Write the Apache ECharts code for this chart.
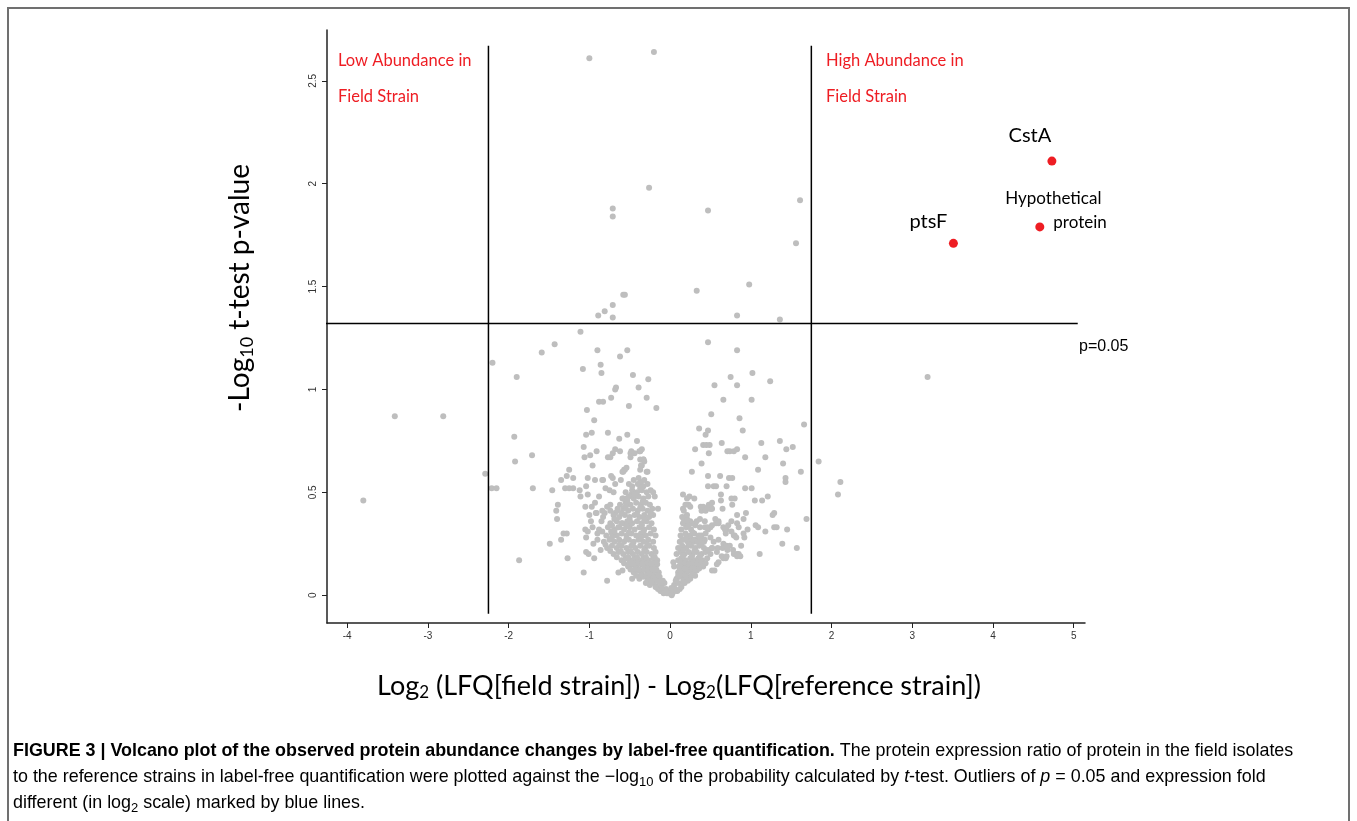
<!DOCTYPE html>
<html><head><meta charset="utf-8">
<script src="https://cdn.jsdelivr.net/npm/echarts@6/dist/echarts.min.js"></script>
<style>html,body{margin:0;padding:0;background:#fff}#c{width:1357px;height:821px}</style>
</head><body><div id="c"></div>
<script>
const xTicks = [-4,-3,-2,-1,0,1,2,3,4,5];
const yTicks = [0,0.5,1,1.5,2,2.5];

const topPoints = [[-1.00,2.61],[-0.20,2.64],[-0.26,1.98],[-0.71,1.88],[-0.71,1.84],[0.47,1.87],[1.61,1.92],[1.56,1.71],[0.33,1.48],[0.98,1.51],[-0.58,1.46],[-0.56,1.46],[-0.71,1.41],[-0.89,1.36],[-0.81,1.38],[-0.71,1.35],[0.83,1.36],[1.36,1.34]];

const leftSide = [[-1.11,1.28],[-1.43,1.22],[-1.59,1.18],[-2.20,1.13],[-0.90,1.19],[-0.62,1.16],[-0.53,1.19],[-1.90,1.06],[-1.08,1.10],[-0.86,1.12],[-0.85,1.08],[-0.46,1.07],[-0.27,1.05],[-0.39,1.01],[-0.67,1.01],[-0.68,1.00],[-0.73,0.96],[-0.29,0.96],[-0.88,0.94],[-0.83,0.94],[-0.51,0.92],[-0.17,0.91],[-1.03,0.90],[-0.94,0.85],[-3.41,0.87],[-2.81,0.87],[-3.80,0.46],[-0.97,0.79],[-1.04,0.78],[-0.77,0.79],[-0.53,0.78],[-1.93,0.77],[-0.41,0.75],[-0.63,0.76],[-1.07,0.72],[-0.91,0.70],[-0.68,0.71],[-0.71,0.69],[-0.49,0.69],[-0.49,0.67],[-0.37,0.70],[-0.37,0.66],[-1.71,0.68],[-1.06,0.67],[-0.99,0.68],[-0.62,0.70],[-0.77,0.67],[-0.74,0.67],[-0.33,0.66],[-0.35,0.63],[-1.92,0.65],[-0.96,0.63],[-1.25,0.61],[-1.28,0.58],[-0.59,0.60],[-0.57,0.61],[-0.28,0.60],[-2.29,0.59],[-2.21,0.52],[-2.15,0.52],[-1.20,0.57],[-1.35,0.56],[-1.02,0.57],[-0.93,0.56],[-0.83,0.56],[-0.71,0.57],[-0.68,0.54],[-0.61,0.56],[-0.51,0.54],[-0.36,0.55],[-0.37,0.54],[-1.70,0.52],[-1.30,0.52],[-1.25,0.52],[-1.20,0.52],[-1.46,0.51],[-1.12,0.51],[-1.11,0.48],[-1.02,0.49],[-1.04,0.53],[-0.80,0.52],[-0.75,0.51],[-0.70,0.50],[-0.21,0.50],[-0.19,0.48],[-0.59,0.47],[-0.54,0.47],[-0.48,0.49],[-1.39,0.44],[-1.41,0.41],[-1.40,0.37],[-1.05,0.43],[-0.97,0.43],[-0.92,0.40],[-0.81,0.40],[-0.74,0.41],[-0.68,0.40],[-0.15,0.42],[-1.05,0.32],[-1.32,0.30],[-1.28,0.30],[-1.35,0.27],[-1.02,0.31],[-1.04,0.28],[-1.49,0.25],[-1.04,0.21],[-1.01,0.20],[-0.94,0.18],[-1.27,0.18],[-1.87,0.17],[-1.07,0.11],[-0.78,0.07],[-0.47,0.08],[-0.64,0.11],[-0.59,0.12],[-0.84,0.56],[-0.73,0.58],[-0.56,0.61],[-0.54,0.62],[-0.91,0.40],[-0.84,0.41],[-0.78,0.43],[-0.74,0.44],[-0.65,0.42],[-0.84,0.31],[-0.73,0.31],[-0.69,0.32],[-0.64,0.33],[-0.59,0.35],[-0.52,0.35],[-0.35,0.71],[-0.38,0.70],[-0.33,0.66],[-0.32,0.65],[-0.48,0.70],[-0.44,0.69],[-0.58,0.60],[-0.36,0.63],[-0.37,0.61],[-0.29,0.60],[-0.29,0.09],[-0.23,0.07],[-0.17,0.04],[-0.10,0.02],[-0.04,0.01],[0.02,0.00],
 [-0.95,0.25],[-0.90,0.30],[-0.98,0.36],[-0.86,0.22],[-0.93,0.45],[-0.88,0.48],[-1.00,0.39],[-0.85,0.36],[-0.90,0.27],[-0.96,0.33]];

const rightSide = [[0.47,1.23],[0.83,1.19],[1.02,1.08],[1.24,1.04],[0.75,1.06],[0.83,1.02],[0.55,1.02],[0.66,0.95],[1.01,0.95],[0.51,0.88],[0.86,0.86],[0.90,0.80],[1.66,0.83],[3.19,1.06],[0.36,0.81],[0.47,0.80],[0.44,0.78],[0.31,0.71],[0.41,0.73],[0.45,0.73],[0.49,0.73],[0.48,0.69],[0.64,0.74],[0.71,0.70],[0.74,0.70],[0.79,0.70],[0.83,0.71],[0.93,0.67],[1.13,0.74],[1.18,0.67],[1.36,0.75],[1.44,0.71],[1.52,0.72],[1.40,0.64],[1.62,0.60],[1.84,0.65],[2.11,0.55],[2.08,0.49],[0.39,0.64],[0.27,0.60],[1.09,0.61],[1.43,0.57],[1.43,0.55],[0.47,0.58],[0.62,0.58],[0.73,0.57],[0.77,0.57],[0.47,0.53],[0.54,0.53],[0.57,0.53],[0.70,0.53],[0.93,0.52],[1.01,0.52],[0.16,0.49],[0.30,0.47],[0.63,0.49],[0.63,0.46],[1.05,0.46],[1.14,0.46],[1.21,0.48],[0.77,0.44],[0.16,0.42],[0.23,0.44],[0.25,0.43],[0.39,0.41],[0.44,0.42],[0.50,0.43],[0.52,0.42],[0.65,0.42],[0.83,0.39],[0.94,0.40],[0.91,0.37],[1.29,0.40],[1.27,0.39],[0.17,0.37],[0.21,0.37],[0.23,0.35],[0.25,0.36],[0.76,0.36],[0.60,0.36],[0.57,0.35],[0.43,0.33],[0.47,0.32],[0.50,0.33],[0.66,0.33],[0.70,0.32],[0.72,0.34],[0.85,0.33],[1.09,0.33],[1.18,0.31],[1.29,0.33],[1.32,0.33],[1.45,0.32],[1.69,0.37],[0.79,0.29],[0.82,0.28],[0.92,0.28],[0.15,0.27],[0.21,0.29],[0.30,0.26],[0.36,0.27],[0.42,0.26],[0.52,0.23],[0.59,0.23],[0.65,0.23],[0.71,0.22],[0.88,0.24],[0.79,0.20],[0.83,0.19],[0.85,0.20],[1.11,0.20],[1.39,0.25],[1.57,0.23],[0.66,0.18],[0.69,0.18],[0.60,0.16],[0.58,0.15],[0.52,0.12],[0.55,0.12],[0.04,0.16],[0.05,0.14],[0.21,0.47],[0.24,0.48],[0.76,0.47],[0.80,0.47],[0.19,0.38],[0.20,0.34],[0.26,0.35],[0.31,0.34],[0.33,0.36],[0.37,0.37],[0.43,0.36],[0.46,0.33],[0.52,0.34],[0.56,0.37],[0.60,0.35],[0.68,0.32],[0.69,0.30],[0.76,0.31],[0.80,0.29],[0.83,0.35],[0.91,0.30],[0.96,0.32],[1.06,0.34],[0.24,0.28],[0.27,0.26],[0.31,0.27],[0.35,0.28],[0.39,0.29],[0.43,0.27],[0.50,0.28],[0.54,0.26],[0.60,0.27],[0.66,0.25],[0.70,0.24],[0.74,0.24],[0.78,0.22],[0.83,0.20],[0.87,0.19],[0.52,0.23],[0.58,0.21],[0.64,0.19],[0.70,0.19],[0.38,0.43],[0.41,0.43],[0.44,0.41],[0.49,0.42],[0.51,0.42],[0.48,0.44],[0.52,0.45]];

const core = [[-0.12,0.02],[-0.08,0.01],[-0.05,0.03],[-0.02,0.01],[0.00,0.02],[0.03,0.01],[0.06,0.03],[0.09,0.02],[0.12,0.03],[-0.15,0.03],
 [-0.25,0.05],[-0.20,0.06],[-0.16,0.04],[-0.11,0.05],[-0.07,0.06],[0.05,0.05],[0.10,0.06],[0.14,0.04],[0.18,0.06],[-0.30,0.06],
 [-0.38,0.08],[-0.33,0.09],[-0.27,0.08],[-0.22,0.09],[-0.17,0.08],[-0.13,0.09],[0.08,0.08],[0.12,0.09],[0.17,0.08],[0.21,0.09],[0.25,0.08],
 [-0.45,0.11],[-0.40,0.12],[-0.35,0.11],[-0.29,0.12],[-0.24,0.11],[-0.19,0.12],[-0.14,0.11],[0.10,0.11],[0.15,0.12],[0.20,0.11],[0.24,0.12],[0.29,0.11],[0.33,0.12],
 [-0.52,0.14],[-0.47,0.15],[-0.42,0.14],[-0.36,0.15],[-0.31,0.14],[-0.26,0.15],[-0.20,0.14],[-0.16,0.15],[0.11,0.14],[0.16,0.15],[0.22,0.14],[0.27,0.15],[0.31,0.14],[0.37,0.15],[0.41,0.14],
 [-0.60,0.17],[-0.55,0.18],[-0.49,0.17],[-0.44,0.18],[-0.38,0.17],[-0.33,0.18],[-0.27,0.17],[-0.21,0.18],[-0.16,0.17],[0.10,0.17],[0.14,0.18],[0.19,0.17],[0.25,0.18],[0.30,0.17],[0.35,0.18],[0.40,0.17],[0.46,0.18],
 [-0.70,0.20],[-0.64,0.21],[-0.58,0.20],[-0.52,0.21],[-0.46,0.20],[-0.40,0.21],[-0.35,0.20],[-0.29,0.21],[-0.23,0.20],[-0.18,0.21],[0.08,0.20],[0.13,0.21],[0.18,0.20],[0.23,0.21],[0.28,0.20],[0.33,0.21],[0.39,0.20],[0.44,0.21],[0.50,0.20],
 [-0.78,0.23],[-0.72,0.24],[-0.66,0.23],[-0.60,0.24],[-0.54,0.23],[-0.48,0.24],[-0.43,0.23],[-0.37,0.24],[-0.31,0.23],[-0.26,0.24],[-0.20,0.23],[0.10,0.23],[0.15,0.24],[0.20,0.23],[0.26,0.24],[0.31,0.23],[0.36,0.24],[0.42,0.23],
 [-0.82,0.26],[-0.75,0.27],[-0.69,0.26],[-0.63,0.27],[-0.57,0.26],[-0.51,0.27],[-0.45,0.26],[-0.39,0.27],[-0.33,0.26],[-0.27,0.27],[-0.21,0.26],[0.12,0.26],[0.17,0.27],[0.22,0.26],[0.28,0.27],[0.34,0.26],[0.39,0.27],
 [-0.79,0.29],[-0.72,0.30],[-0.66,0.29],[-0.60,0.30],[-0.54,0.29],[-0.48,0.30],[-0.42,0.29],[-0.36,0.30],[-0.30,0.29],[-0.24,0.30],[-0.18,0.29],[0.13,0.29],[0.19,0.30],[0.25,0.29],[0.30,0.30],[0.36,0.29],[0.44,0.30],
 [-0.88,0.32],[-0.77,0.33],[-0.69,0.32],[-0.63,0.33],[-0.57,0.32],[-0.50,0.33],[-0.44,0.32],[-0.38,0.33],[-0.32,0.32],[-0.26,0.33],[-0.20,0.32],[0.14,0.32],[0.20,0.33],[0.26,0.32],[0.37,0.33],
 [-0.74,0.35],[-0.66,0.36],[-0.60,0.35],[-0.53,0.36],[-0.47,0.35],[-0.41,0.36],[-0.35,0.35],[-0.29,0.36],[-0.23,0.35],[0.16,0.35],[0.22,0.36],[0.27,0.35],
 [-0.83,0.38],[-0.70,0.39],[-0.63,0.38],[-0.56,0.39],[-0.50,0.38],[-0.44,0.39],[-0.38,0.38],[-0.32,0.39],[-0.26,0.38],[-0.21,0.39],[0.15,0.38],[0.21,0.39],
 [-0.65,0.41],[-0.58,0.42],[-0.52,0.41],[-0.46,0.42],[-0.40,0.41],[-0.34,0.42],[-0.28,0.41],[-0.22,0.42],[0.17,0.41],
 [-0.62,0.44],[-0.55,0.45],[-0.49,0.44],[-0.42,0.45],[-0.36,0.44],[-0.30,0.45],[-0.25,0.44],[0.19,0.44],
 [-0.58,0.47],[-0.51,0.48],[-0.45,0.47],[-0.39,0.48],[-0.33,0.47],[-0.27,0.48],
 [-0.55,0.50],[-0.47,0.51],[-0.41,0.50],[-0.35,0.51],[-0.29,0.50],[-0.24,0.51],
 [-0.47,0.53],[-0.40,0.54],[-0.33,0.53],[-0.28,0.54],
 [-0.45,0.56],[-0.39,0.57],[-0.32,0.56]];

const coreFill = [[-0.10,0.035],[-0.035,0.02],[0.015,0.035],[0.075,0.02],[-0.18,0.04],
 [-0.28,0.07],[-0.23,0.065],[-0.14,0.065],[-0.09,0.07],[0.07,0.07],[0.16,0.065],[0.22,0.07],
 [-0.42,0.095],[-0.36,0.1],[-0.30,0.095],[-0.25,0.1],[-0.20,0.095],[-0.15,0.10],[0.10,0.095],[0.15,0.10],[0.19,0.095],[0.27,0.10],[0.31,0.095],
 [-0.49,0.125],[-0.43,0.13],[-0.38,0.125],[-0.32,0.13],[-0.27,0.125],[-0.22,0.13],[-0.17,0.125],[0.12,0.125],[0.18,0.13],[0.22,0.125],[0.27,0.13],[0.31,0.125],[0.36,0.13],
 [-0.57,0.155],[-0.50,0.16],[-0.45,0.155],[-0.39,0.16],[-0.34,0.155],[-0.28,0.16],[-0.23,0.155],[-0.18,0.16],[0.13,0.155],[0.19,0.16],[0.24,0.155],[0.29,0.16],[0.34,0.155],[0.39,0.16],[0.44,0.155],
 [-0.66,0.185],[-0.52,0.185],[-0.41,0.185],[-0.30,0.185],[-0.19,0.185],[0.16,0.19],[0.27,0.19],[0.37,0.19],
 [-0.74,0.215],[-0.61,0.215],[-0.49,0.215],[-0.32,0.22],[0.16,0.22],[0.30,0.215],[0.47,0.22],
 [-0.80,0.245],[-0.63,0.245],[-0.46,0.25],[-0.28,0.245],[0.23,0.245],[0.39,0.25],
 [-0.72,0.28],[-0.54,0.275],[-0.36,0.28],[0.20,0.28],[0.37,0.275],
 [-0.69,0.31],[-0.51,0.305],[-0.33,0.31],[0.28,0.305],
 [-0.72,0.34],[-0.54,0.335],[-0.35,0.34],[0.23,0.34],
 [-0.69,0.37],[-0.50,0.365],[-0.32,0.37],
 [-0.60,0.40],[-0.41,0.395],[-0.24,0.40],
 [-0.55,0.43],[-0.37,0.425],
 [-0.53,0.46],[-0.34,0.455],
 [-0.44,0.49],
 [-0.37,0.52]];

const highlightNames = ['CstA','Hypothetical protein','ptsF'];
const highlightX = [4.73, 4.58, 3.51];
const highlightY = [2.11, 1.79, 1.71];

const fcThresholds = [-2.25, 1.75];
const vLineSpan = [-0.09, 2.67];
const pThreshold = 1.32;
const hLineSpan = [-4.48, 5.05];

const grayPoints = [].concat(topPoints, leftSide, rightSide, core, coreFill);

const labelStyles = {
  'CstA': {formatter:'CstA', position:'top', offset:[-22,-6], fontSize:20, color:'#000', fontFamily:'Lato'},
  'ptsF': {formatter:'ptsF', position:'top', offset:[-25,-2], fontSize:20, color:'#000', fontFamily:'Lato'},
  'Hypothetical protein': {formatter:'{a|Hypothetical}\n{b|protein}', position:'right', offset:[-44,-16], align:'left',
     rich:{a:{fontSize:17, color:'#000', fontFamily:'Lato', lineHeight:24}, b:{fontSize:17, color:'#000', fontFamily:'Lato', lineHeight:24, padding:[0,0,0,48]}}}
};

const highlighted = highlightNames.map((n,i)=>({name:n, value:[highlightX[i], highlightY[i]], label:Object.assign({show:true, opacity:1, textBorderWidth:0}, labelStyles[n])}));

const chart = echarts.init(document.getElementById('c'), null, {renderer:'canvas'});
const axisCol = '#222';
const subRich = (size, color, fam, lh, subSize) => ({
  m:{fontSize:size, color:color, fontFamily:fam, lineHeight:lh, verticalAlign:'middle'},
  s:{fontSize:subSize, color:color, fontFamily:fam, lineHeight:subSize, verticalAlign:'bottom'}
});
const capFs = 17.9;
const capRich = {
  b:{fontSize:capFs, fontWeight:'bold', color:'#231f20', fontFamily:'Liberation Sans', lineHeight:24},
  r:{fontSize:capFs, color:'#333', fontFamily:'Liberation Sans', lineHeight:24},
  i:{fontSize:capFs, color:'#333', fontStyle:'italic', fontFamily:'Liberation Sans', lineHeight:24},
  s:{fontSize:13, color:'#333', fontFamily:'Liberation Sans', lineHeight:13, verticalAlign:'bottom'}
};

chart.setOption({
  animation:false,
  backgroundColor:'#fff',
  grid:{left:327, top:30, right:272, bottom:198, containLabel:false},
  xAxis:{type:'value', min:-4.25, max:5.14,
    axisLine:{show:true, onZero:false, lineStyle:{color:axisCol, width:1.5}},
    axisTick:{show:true, length:5, customValues:xTicks, lineStyle:{color:axisCol, width:1}},
    axisLabel:{customValues:xTicks, fontSize:10, color:'#333', margin:8, fontFamily:'Liberation Sans'},
    splitLine:{show:false}},
  yAxis:{type:'value', min:-0.135, max:2.747,
    axisLine:{show:true, onZero:false, lineStyle:{color:axisCol, width:1.5}},
    axisTick:{show:true, length:5, customValues:yTicks, lineStyle:{color:axisCol, width:1}},
    axisLabel:{customValues:yTicks, fontSize:10, color:'#333', margin:9, rotate:90, fontFamily:'Liberation Sans'},
    splitLine:{show:false}},
  series:[
    {type:'scatter', data:grayPoints, symbolSize:6, itemStyle:{color:'#bebebe', opacity:1}, silent:true, z:2},
    {type:'line', data:[[fcThresholds[0],vLineSpan[0]],[fcThresholds[0],vLineSpan[1]]], symbol:'none', lineStyle:{color:'#000', width:1.5}, z:3, clip:false},
    {type:'line', data:[[fcThresholds[1],vLineSpan[0]],[fcThresholds[1],vLineSpan[1]]], symbol:'none', lineStyle:{color:'#000', width:1.5}, z:3, clip:false},
    {type:'line', data:[[hLineSpan[0],pThreshold],[hLineSpan[1],pThreshold]], symbol:'none', lineStyle:{color:'#000', width:1.5}, z:3, clip:false},
    {type:'scatter', data:highlighted, symbolSize:9, itemStyle:{color:'#ee1d23', opacity:1}, z:4}
  ],
  graphic:[
    {type:'rect', shape:{x:8, y:8, width:1341, height:840}, style:{fill:'none', stroke:'#707070', lineWidth:2}, z:0},
    {type:'text', x:240, y:288, rotation:Math.PI/2, style:{text:'{m|-Log}{s|10}{m| t-test p-value}', rich:subRich(28,'#000','Lato',32,18), align:'center', verticalAlign:'middle'}},
    {type:'text', x:679, y:686, style:{text:'{m|Log}{s|2}{m| (LFQ[field strain]) - Log}{s|2}{m|(LFQ[reference strain])}', rich:subRich(27,'#000','Lato',30,17), align:'center', verticalAlign:'middle'}},
    {type:'text', x:338, y:61, style:{text:'Low Abundance in', fill:'#ee1d23', font:'16.5px Lato', verticalAlign:'middle'}},
    {type:'text', x:338, y:97, style:{text:'Field Strain', fill:'#ee1d23', font:'16.5px Lato', verticalAlign:'middle'}},
    {type:'text', x:826, y:61, style:{text:'High Abundance in', fill:'#ee1d23', font:'16.5px Lato', verticalAlign:'middle'}},
    {type:'text', x:826, y:97, style:{text:'Field Strain', fill:'#ee1d23', font:'16.5px Lato', verticalAlign:'middle'}},
    {type:'text', x:1079, y:347, style:{text:'p=0.05', fill:'#000', font:'16px "Liberation Sans"', verticalAlign:'middle'}},
    {type:'text', x:13, y:751, style:{text:'{b|FIGURE 3 | Volcano plot of the observed protein abundance changes by label-free quantification.}{r| The protein expression ratio of protein in the field isolates}', rich:capRich, verticalAlign:'middle'}},
    {type:'text', x:13, y:777, style:{text:'{r|to the reference strains in label-free quantification were plotted against the \u2212log}{s|10}{r| of the probability calculated by }{i|t}{r|-test. Outliers of }{i|p}{r| = 0.05 and expression fold}', rich:capRich, verticalAlign:'middle'}},
    {type:'text', x:13, y:803, style:{text:'{r|different (in log}{s|2}{r| scale) marked by blue lines.}', rich:capRich, verticalAlign:'middle'}}
  ]
});
</script></body></html>
